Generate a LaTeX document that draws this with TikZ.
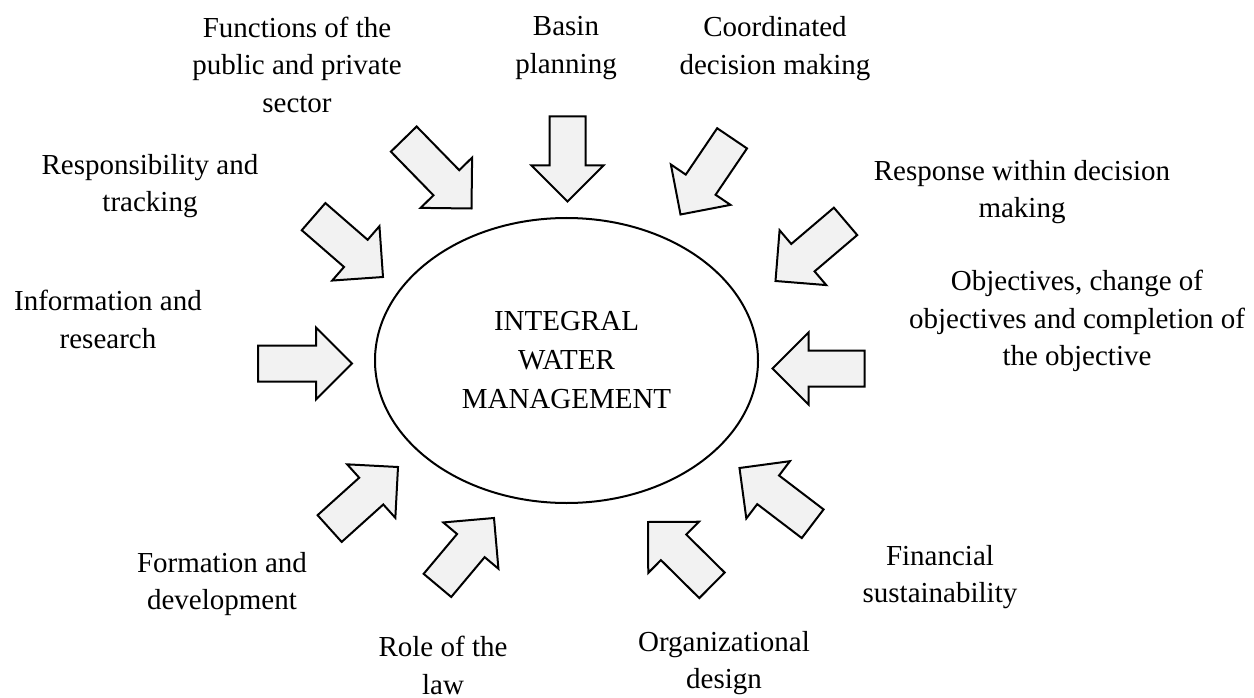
\documentclass[tikz,border=0pt]{standalone}
\usepackage{fontspec}
\setmainfont{Liberation Serif}
\usetikzlibrary{shapes.geometric,shapes.arrows}
\definecolor{arrowfill}{HTML}{F2F2F2}
\tikzset{
  blockarrow/.style={single arrow, draw, line width=2pt, fill=arrowfill,
    minimum height=92pt, inner xsep=0pt, inner ysep=17pt,
    single arrow head extend=18pt, single arrow tip angle=90,
    outer sep=0pt, anchor=tip},
  lbl/.style={align=center, inner sep=0pt, anchor=north,
    font=\fontsize{29}{37.5}\selectfont},
}
\begin{document}
\begin{tikzpicture}[x=1pt, y=-1pt, line join=miter]
\useasboundingbox (0,0) rectangle (1254,698);
% centre
\node[ellipse, draw, line width=2pt, minimum width=383pt, minimum height=285pt,
  align=center, font=\fontsize{29}{39}\selectfont] (iwm) at (566.5,360.5)
  {INTEGRAL\\WATER\\MANAGEMENT};
% block arrows, placed by their tips, all pointing in
\node[blockarrow, rotate=-45.7, minimum height=97pt] (a-func) at (471.5,208.5) {};
\node[blockarrow, rotate=-90, minimum height=85pt] (a-basin) at (567.5,201.5) {};
\node[blockarrow, rotate=-124.1] (a-coord) at (680.5,214.5) {};
\node[blockarrow, rotate=-139.6] (a-resp) at (775.5,281) {};
\node[blockarrow, rotate=-41] (a-track) at (383,277) {};
\node[blockarrow, rotate=0, minimum height=94pt] (a-info) at (352,363.5) {};
\node[blockarrow, rotate=180] (a-obj) at (772.5,368.5) {};
\node[blockarrow, rotate=42] (a-form) at (398,467) {};
\node[blockarrow, rotate=50, minimum height=88pt] (a-law) at (494,518) {};
\node[blockarrow, rotate=135.3, minimum height=90pt] (a-org) at (648,522) {};
\node[blockarrow, rotate=142.7] (a-fin) at (739.5,468) {};
% labels
\node[lbl] (l-func) at (297,16.5) {Functions of the\\public and private\\sector};
\node[lbl] (l-basin) at (566,16.5) {Basin\\planning};
\node[lbl] (l-coord) at (775,16.5) {Coordinated\\decision making};
\node[lbl] (l-track) at (150,154) {Responsibility and\\tracking};
\node[lbl] (l-resp) at (1022,160) {Response within decision\\making};
\node[lbl] (l-info) at (108,290) {Information and\\research};
\node[lbl] (l-obj) at (1077,270) {Objectives, change of\\objectives and completion of\\the objective};
\node[lbl] (l-form) at (222,552) {Formation and\\development};
\node[lbl] (l-law) at (443,636) {Role of the\\law};
\node[lbl] (l-org) at (724,631) {Organizational\\design};
\node[lbl] (l-fin) at (940,545) {Financial\\sustainability};
\end{tikzpicture}
\end{document}
